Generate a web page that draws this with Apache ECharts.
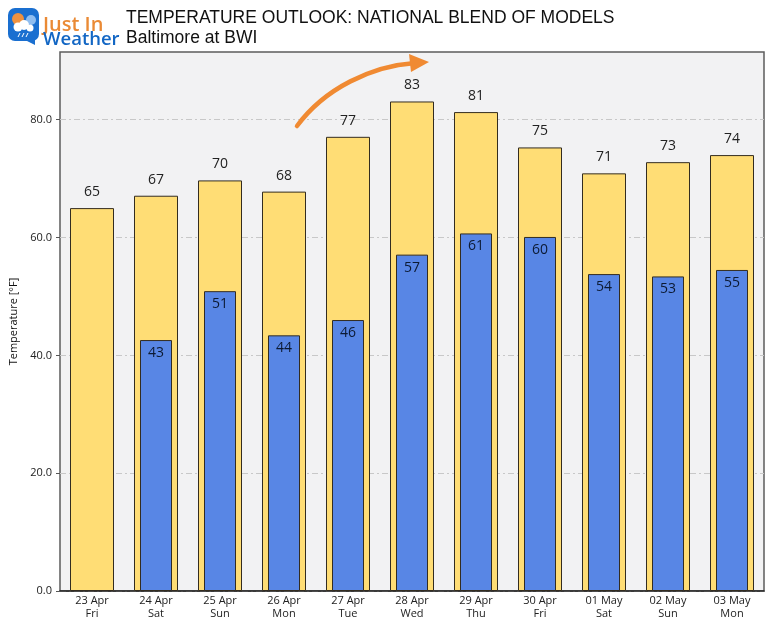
<!DOCTYPE html>
<html>
<head>
<meta charset="utf-8">
<style>
  html, body { margin: 0; padding: 0; background: #fff; }
  #chart { width: 780px; height: 624px; }
</style>
<script src="https://cdn.jsdelivr.net/npm/echarts@6/dist/echarts.min.js"></script>
</head>
<body>
<div id="chart"></div>
<script>
const days = ['23 Apr\nFri', '24 Apr\nSat', '25 Apr\nSun', '26 Apr\nMon', '27 Apr\nTue', '28 Apr\nWed', '29 Apr\nThu', '30 Apr\nFri', '01 May\nSat', '02 May\nSun', '03 May\nMon'];
const highs = [65, 67.1, 69.7, 67.8, 77.1, 83.1, 81.3, 75.3, 70.9, 72.8, 74];
const highLabels = ['65', '67', '70', '68', '77', '83', '81', '75', '71', '73', '74'];
const lows = [null, 42.6, 50.9, 43.4, 46, 57.1, 60.7, 60.1, 53.8, 53.4, 54.5];
const lowLabels = ['', '43', '51', '44', '46', '57', '61', '60', '54', '53', '55'];
const yTicks = [0, 20, 40, 60, 80];

const chart = echarts.init(document.getElementById('chart'));
const uiFont = '"Open Sans", "Noto Sans", sans-serif';
const titleFont = '17.5px "Liberation Sans", Arial, sans-serif';
const edge = '#332c20';

chart.setOption({
  animation: false,
  backgroundColor: '#fff',
  grid: {
    left: 60, right: 16, top: 52, bottom: 33,
    outerBoundsMode: 'none',
    show: true, backgroundColor: '#f2f2f3', borderColor: '#5c5c5c', borderWidth: 1.5
  },
  xAxis: [
    {
      type: 'category', data: days,
      axisLine: { lineStyle: { color: '#222', width: 1.5 } },
      axisTick: { show: false },
      axisLabel: { color: '#222', fontFamily: uiFont, fontSize: 11, lineHeight: 13, margin: 3, interval: 0 }
    },
    { type: 'category', data: days, show: false }
  ],
  yAxis: {
    type: 'value', min: 0, max: 91.5,
    name: 'Temperature [°F]', nameLocation: 'middle', nameGap: 39,
    nameTextStyle: { color: '#111', fontFamily: uiFont, fontSize: 11 },
    axisLine: { show: false },
    axisTick: { show: true, length: 4, customValues: yTicks, lineStyle: { color: '#555' } },
    axisLabel: {
      color: '#222', fontFamily: uiFont, fontSize: 11, margin: 8,
      customValues: yTicks, formatter: v => v.toFixed(1)
    },
    splitLine: { show: true, lineStyle: { color: '#c8c8c8', type: [6, 3, 2, 3], width: 1 } }
  },
  series: [
    {
      name: 'High', type: 'bar', xAxisIndex: 0, barWidth: 44, data: highs,
      itemStyle: { color: '#ffdd75', borderColor: edge, borderWidth: 1 },
      label: {
        show: true, position: 'top', distance: 9, color: '#222', fontFamily: uiFont, fontSize: 14,
        formatter: p => highLabels[p.dataIndex]
      }
    },
    {
      name: 'Low', type: 'bar', xAxisIndex: 1, barWidth: 32, data: lows, z: 3,
      itemStyle: { color: '#5886e5', borderColor: edge, borderWidth: 1 },
      label: {
        show: true, position: 'insideTop', distance: 6, color: '#0c1a33', fontFamily: uiFont, fontSize: 14,
        formatter: p => lowLabels[p.dataIndex]
      }
    }
  ],
  graphic: [
    // タイトル
    { type: 'text', left: 126, top: 9, style: { text: 'TEMPERATURE OUTLOOK: NATIONAL BLEND OF MODELS', fill: '#111', font: titleFont } },
    { type: 'text', left: 126, top: 29, style: { text: 'Baltimore at BWI', fill: '#111', font: titleFont } },
    // ロゴ
    { type: 'rect', shape: { x: 8, y: 8, width: 31, height: 33, r: 7 }, style: { fill: '#1a6fd0' } },
    { type: 'polygon', shape: { points: [[25, 40], [35, 40], [35, 45]] }, style: { fill: '#1a6fd0' } },
    { type: 'circle', shape: { cx: 18, cy: 19, r: 6 }, style: { fill: '#ee9140' } },
    { type: 'circle', shape: { cx: 31, cy: 20, r: 5 }, style: { fill: '#8fbdf0' } },
    { type: 'circle', shape: { cx: 18, cy: 27, r: 4.5 }, style: { fill: '#fff' } },
    { type: 'circle', shape: { cx: 24, cy: 25, r: 5 }, style: { fill: '#fff' } },
    { type: 'circle', shape: { cx: 30, cy: 28, r: 3.5 }, style: { fill: '#fff' } },
    { type: 'line', shape: { x1: 20, y1: 33, x2: 18, y2: 37 }, style: { stroke: '#fff', lineWidth: 1 } },
    { type: 'line', shape: { x1: 24, y1: 33, x2: 22, y2: 37 }, style: { stroke: '#fff', lineWidth: 1 } },
    { type: 'line', shape: { x1: 28, y1: 33, x2: 26, y2: 37 }, style: { stroke: '#fff', lineWidth: 1 } },
    { type: 'text', left: 43, top: 15, style: { text: 'Just In', fill: '#ea8a35', font: '600 20px "Open Sans", sans-serif' } },
    { type: 'text', left: 43, top: 30, style: { text: 'Weather', fill: '#1266c4', font: '600 18.5px "Open Sans", sans-serif' } },
    // 矢印
    { type: 'bezierCurve', z: 10, shape: { x1: 297, y1: 126, cpx1: 325, cpy1: 88, cpx2: 372, cpy2: 66, x2: 415, y2: 63 }, style: { stroke: '#f08a32', lineWidth: 4.5, fill: 'none', lineCap: 'round' } },
    { type: 'polygon', z: 10, shape: { points: [[409, 54], [429, 62], [411, 72]] }, style: { fill: '#f08a32' } }
  ]
});
</script>
</body>
</html>
